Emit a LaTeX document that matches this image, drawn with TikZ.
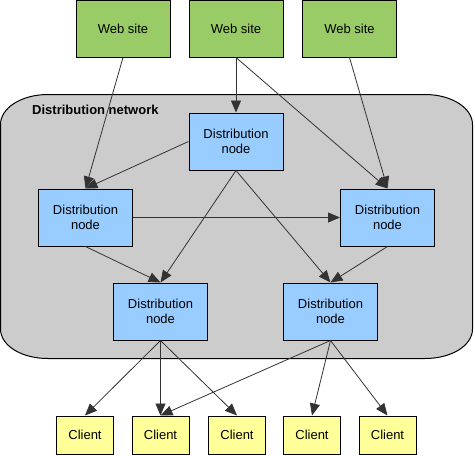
\documentclass[tikz,border=0pt]{standalone}
\usepackage{fontspec}
\setmainfont{Liberation Sans}
\usetikzlibrary{arrows.meta}
\definecolor{webgreen}{RGB}{153,204,102}
\definecolor{nodeblue}{RGB}{153,204,255}
\definecolor{clientyellow}{RGB}{255,255,153}
\definecolor{netgray}{RGB}{204,204,204}
\definecolor{edgegray}{RGB}{51,51,51}
\tikzset{
  box/.style={draw=black, line width=1pt, inner sep=0pt, align=center,
    font=\fontsize{13pt}{15pt}\selectfont},
  website/.style={box, fill=webgreen, minimum width=94pt, minimum height=57pt},
  distnode/.style={box, fill=nodeblue, minimum width=94pt, minimum height=57pt},
  client/.style={box, fill=clientyellow, minimum width=57pt, minimum height=38pt},
  conn/.style={draw=edgegray, line width=0.8pt, -{Triangle[length=12pt,width=10pt]}, shorten >=0pt}
}
\begin{document}
\begin{tikzpicture}[x=1pt,y=-1pt]
\useasboundingbox (0,0) rectangle (475,456);
% network area
\draw[fill=netgray, line width=1pt]
  (48,94.5) -- (425,94.5) .. controls (451.5,94.5) and (472.5,107.9) .. (472.5,124.5)
  -- (472.5,329) .. controls (472.5,345.6) and (451.5,358.5) .. (425,358.5)
  -- (48,358.5) .. controls (21.5,358.5) and (0.5,345.6) .. (0.5,329)
  -- (0.5,124.5) .. controls (0.5,107.9) and (21.5,94.5) .. (48,94.5) -- cycle;
\node[anchor=west, font=\bfseries\fontsize{13pt}{15pt}\selectfont, inner sep=0pt] (netlabel) at (32,110) {Distribution network};
% web sites
\node[website] (web1) at (123,28.5) {Web site};
\node[website] (web2) at (236,28.5) {Web site};
\node[website] (web3) at (349.5,28.5) {Web site};
% distribution nodes
\node[distnode] (dtop) at (236,141.5) {Distribution\\node};
\node[distnode] (dleft) at (85.5,217.5) {Distribution\\node};
\node[distnode] (dright) at (387.5,217.5) {Distribution\\node};
\node[distnode] (dbl) at (160.5,311.5) {Distribution\\node};
\node[distnode] (dbr) at (330.5,311.5) {Distribution\\node};
% clients
\node[client] (c1) at (85,435) {Client};
\node[client] (c2) at (160.5,435) {Client};
\node[client] (c3) at (237,435) {Client};
\node[client] (c4) at (312,435) {Client};
\node[client] (c5) at (387.5,435) {Client};
% connectors
\draw[conn] (web1.south) -- (dleft.north);
\draw[conn] (web2.south) -- (dtop.north);
\draw[conn] (web2.south) -- (dright.north);
\draw[conn] (web3.south) -- (dright.north);
\draw[conn] (dtop.west) -- (dleft.north);
\draw[conn] (dleft.east) -- (dright.west);
\draw[conn] (dtop.south) -- (dbl.north);
\draw[conn] (dtop.south) -- (dbr.north);
\draw[conn] (dleft.south) -- (dbl.north);
\draw[conn] (dright.south) -- (dbr.north);
\draw[conn] (dbl.south) -- (c1.north);
\draw[conn] (dbl.south) -- (c2.north);
\draw[conn] (dbl.south) -- (c3.north);
\draw[conn] (dbr.south) -- (c2.north);
\draw[conn] (dbr.south) -- (c4.north);
\draw[conn] (dbr.south) -- (c5.north);
\end{tikzpicture}
\end{document}
